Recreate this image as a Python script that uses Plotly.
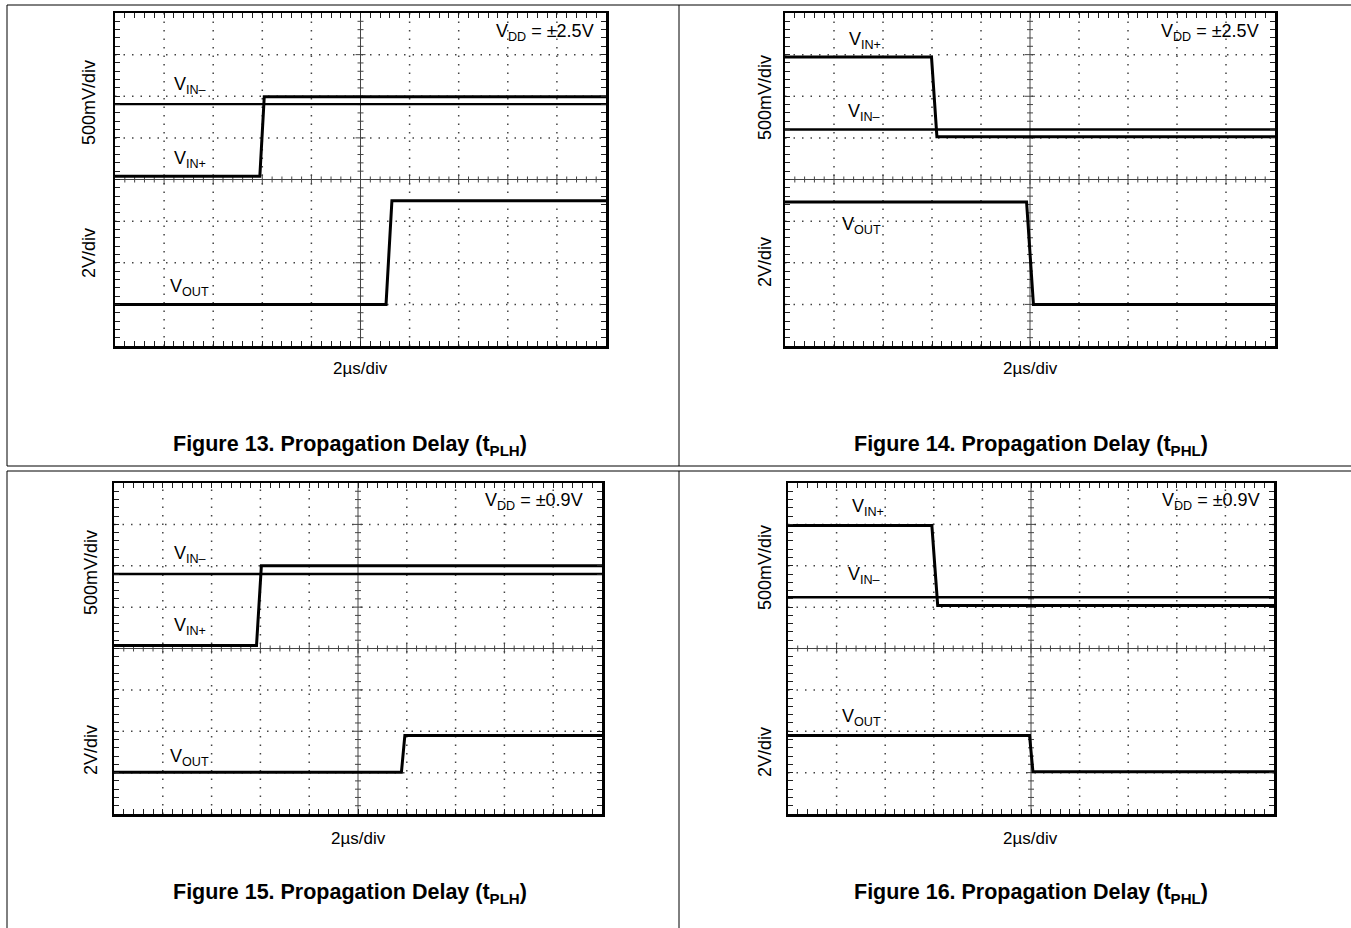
import plotly.graph_objects as go

W, H = 1351, 928

# ---------------- data (x in time divisions 0..10, y in vertical divisions 0..8) -------------
f13_vin_minus_x = [0, 10]
f13_vin_minus_y = [5.81, 5.81]
f13_vin_plus_x = [0, 2.95, 3.04, 10]
f13_vin_plus_y = [4.08, 4.08, 5.99, 5.99]
f13_vout_x = [0, 5.52, 5.64, 10]
f13_vout_y = [1.0, 1.0, 3.49, 3.49]

f14_vin_plus_x = [0, 2.99, 3.10, 10]
f14_vin_plus_y = [6.94, 6.94, 5.03, 5.03]
f14_vin_minus_x = [0, 10]
f14_vin_minus_y = [5.2, 5.2]
f14_vout_x = [0, 4.93, 5.07, 10]
f14_vout_y = [3.46, 3.46, 1.0, 1.0]

f15_vin_minus_x = [0, 10]
f15_vin_minus_y = [5.8, 5.8]
f15_vin_plus_x = [0, 2.92, 3.02, 10]
f15_vin_plus_y = [4.07, 4.07, 6.0, 6.0]
f15_vout_x = [0, 5.89, 5.96, 10]
f15_vout_y = [1.01, 1.01, 1.9, 1.9]

f16_vin_plus_x = [0, 2.96, 3.08, 10]
f16_vin_plus_y = [6.97, 6.97, 5.04, 5.04]
f16_vin_minus_x = [0, 10]
f16_vin_minus_y = [5.24, 5.24]
f16_vout_x = [0, 4.97, 5.04, 10]
f16_vout_y = [1.9, 1.9, 1.02, 1.02]

captions = ["Figure 13. Propagation Delay (t<sub>PLH</sub>)",
            "Figure 14. Propagation Delay (t<sub>PHL</sub>)",
            "Figure 15. Propagation Delay (t<sub>PLH</sub>)",
            "Figure 16. Propagation Delay (t<sub>PHL</sub>)"]
vdd_labels = ["V<sub>DD</sub> = ±2.5V", "V<sub>DD</sub> = ±2.5V",
              "V<sub>DD</sub> = ±0.9V", "V<sub>DD</sub> = ±0.9V"]
y_titles = ["500mV/div", "2V/div"]
x_title = "2µs/div"

# ---------------- layout geometry (pixels) ----------------
boxes = [(115, 13, 606, 346), (785, 13, 1275, 346),
         (114, 483, 602, 814), (788, 483, 1274, 814)]
ytitle_pos = [(89, 103, 253), (765, 97, 262), (91, 573, 750), (765, 567, 752)]
xtitle_pos = [(360, 368), (1030, 368), (358, 838), (1030, 838)]
caption_pos = [(350, 445), (1031, 445), (350, 893), (1031, 893)]

# label positions in division units: (text, x, y, xanchor)
labels = [
    [("V<sub>IN–</sub>", 1.16, 6.25, "left"), ("V<sub>IN+</sub>", 1.16, 4.47, "left"),
     ("V<sub>OUT</sub>", 1.08, 1.41, "left"), (vdd_labels[0], 9.8, 7.54, "right")],
    [("V<sub>IN+</sub>", 1.26, 7.35, "left"), ("V<sub>IN–</sub>", 1.25, 5.6, "left"),
     ("V<sub>OUT</sub>", 1.12, 2.9, "left"), (vdd_labels[1], 9.72, 7.54, "right")],
    [("V<sub>IN–</sub>", 1.18, 6.27, "left"), ("V<sub>IN+</sub>", 1.18, 4.54, "left"),
     ("V<sub>OUT</sub>", 1.1, 1.37, "left"), (vdd_labels[2], 9.66, 7.55, "right")],
    [("V<sub>IN+</sub>", 1.27, 7.4, "left"), ("V<sub>IN–</sub>", 1.19, 5.76, "left"),
     ("V<sub>OUT</sub>", 1.06, 2.33, "left"), (vdd_labels[3], 9.76, 7.55, "right")],
]

signals = [
    [(f13_vin_minus_x, f13_vin_minus_y, 2.4), (f13_vin_plus_x, f13_vin_plus_y, 3), (f13_vout_x, f13_vout_y, 3)],
    [(f14_vin_minus_x, f14_vin_minus_y, 2.4), (f14_vin_plus_x, f14_vin_plus_y, 3), (f14_vout_x, f14_vout_y, 3)],
    [(f15_vin_minus_x, f15_vin_minus_y, 2.4), (f15_vin_plus_x, f15_vin_plus_y, 3), (f15_vout_x, f15_vout_y, 3)],
    [(f16_vin_minus_x, f16_vin_minus_y, 2.4), (f16_vin_plus_x, f16_vin_plus_y, 3), (f16_vout_x, f16_vout_y, 3)],
]

FONT = "Liberation Sans, Arial, Helvetica, sans-serif"

fig = go.Figure()
layout = dict(width=W, height=H, autosize=False, margin=dict(l=0, r=0, t=0, b=0, pad=0),
              paper_bgcolor="white", plot_bgcolor="white", showlegend=False,
              hovermode=False, font=dict(family=FONT, color="black"))
shapes = []
annotations = []


def px(x):
    return x / W


def py(y):
    return 1 - y / H


for i, (x0, y0, x1, y1) in enumerate(boxes):
    n = "" if i == 0 else str(i + 1)
    xa, ya = "x" + n, "y" + n
    wpx, hpx = x1 - x0, y1 - y0
    common = dict(showgrid=False, zeroline=False, showline=True, linecolor="black",
                  linewidth=2.5, mirror="ticks", ticks="inside", tickmode="linear",
                  tick0=0, dtick=0.2, ticklen=5, tickwidth=1, tickcolor="#222",
                  showticklabels=False, fixedrange=True)
    layout["xaxis" + n] = dict(domain=[px(x0), px(x1)], range=[0, 10], anchor=ya, **common)
    layout["yaxis" + n] = dict(domain=[py(y1), py(y0)], range=[0, 8], anchor=xa, **common)

    # dotted graticule
    for k in range(1, 10):
        if k == 5:
            continue
        shapes.append(dict(type="line", xref=xa, yref=ya, x0=k, x1=k, y0=0, y1=8, layer="below",
                           line=dict(color="#444", width=1.5, dash="1.5px,7px")))
    for k in range(1, 8):
        if k == 4:
            continue
        shapes.append(dict(type="line", xref=xa, yref=ya, x0=0, x1=10, y0=k, y1=k, layer="below",
                           line=dict(color="#444", width=1.5, dash="1.5px,7px")))

    # center cross with tick marks
    sx, sy = [0, 10, None, 5, 5, None], [4, 4, None, 0, 8, None]
    ux = wpx / 10.0
    uy = hpx / 8.0
    for k in range(1, 50):
        xv = k * 0.2
        L = 5 if k % 5 == 0 else 3
        sx += [xv, xv, None]
        sy += [4 - L / uy, 4 + L / uy, None]
    for k in range(1, 40):
        yv = k * 0.2
        L = 5 if k % 5 == 0 else 3
        sx += [5 - L / ux, 5 + L / ux, None]
        sy += [yv, yv, None]
    fig.add_trace(go.Scatter(x=sx, y=sy, xaxis=xa, yaxis=ya, mode="lines",
                             line=dict(color="#444", width=1), hoverinfo="skip"))

    # signals
    for (xs, ys, wd) in signals[i]:
        fig.add_trace(go.Scatter(x=xs, y=ys, xaxis=xa, yaxis=ya, mode="lines",
                                 line=dict(color="black", width=wd), hoverinfo="skip"))

    # labels inside plot
    for (t, lx, ly, anc) in labels[i]:
        annotations.append(dict(text=t, xref=xa, yref=ya, x=lx, y=ly, xanchor=anc,
                                yanchor="middle", showarrow=False,
                                font=dict(family=FONT, size=18, color="black")))

    # axis titles
    tx, t1, t2 = ytitle_pos[i]
    annotations.append(dict(text=y_titles[0], xref="paper", yref="paper", x=px(tx), y=py(t1),
                            textangle=-90, showarrow=False, xanchor="center", yanchor="middle",
                            font=dict(family=FONT, size=18)))
    annotations.append(dict(text=y_titles[1], xref="paper", yref="paper", x=px(tx), y=py(t2),
                            textangle=-90, showarrow=False, xanchor="center", yanchor="middle",
                            font=dict(family=FONT, size=18)))
    annotations.append(dict(text=x_title, xref="paper", yref="paper", x=px(xtitle_pos[i][0]),
                            y=py(xtitle_pos[i][1]), showarrow=False, xanchor="center",
                            yanchor="middle", font=dict(family=FONT, size=17)))
    annotations.append(dict(text="<b>" + captions[i] + "</b>", xref="paper", yref="paper",
                            x=px(caption_pos[i][0]), y=py(caption_pos[i][1]), showarrow=False,
                            xanchor="center", yanchor="middle", font=dict(family=FONT, size=21.5)))

# panel frames
frame = dict(color="black", width=1)
for (a, b, c, d) in [(7, 5, 1352, 5), (7, 466, 1352, 466), (7, 5, 7, 466), (679, 5, 679, 466),
                     (7, 471, 1352, 471), (7, 471, 7, 930), (679, 471, 679, 930)]:
    shapes.append(dict(type="line", xref="paper", yref="paper", x0=px(a), y0=py(b),
                       x1=px(c), y1=py(d), line=frame))

layout["shapes"] = shapes
layout["annotations"] = annotations
fig.update_layout(**layout)
fig.write_html("out.html",
               config=dict(displayModeBar=False, staticPlot=True),
               post_script="document.body.style.margin='0px';document.body.style.padding='0px';"
                           "document.body.style.overflow='hidden';")
